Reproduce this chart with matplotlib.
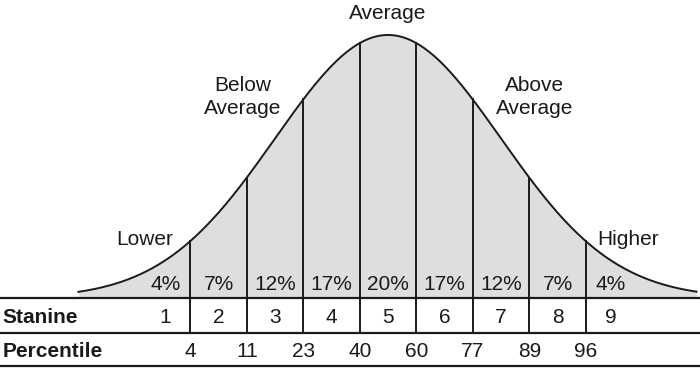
import numpy as np
import matplotlib

matplotlib.use("Agg")
import matplotlib.pyplot as plt  # noqa: E402

# stanine bands on the z scale
BOUNDS = [-1.75, -1.25, -0.75, -0.25, 0.25, 0.75, 1.25, 1.75]
STANINES = [1, 2, 3, 4, 5, 6, 7, 8, 9]
PCT_IN_BAND = ["4%", "7%", "12%", "17%", "20%", "17%", "12%", "7%", "4%"]
BAND_CENTERS = [-1.97, -1.5, -1.0, -0.5, 0.0, 0.5, 1.0, 1.5, 1.97]
PERCENTILES = [4, 11, 23, 40, 60, 77, 89, 96]
GROUPS = ["Lower", "Below\nAverage", "Average", "Above\nAverage", "Higher"]
GROUP_X = [-2.15, -1.29, 0.0, 1.3, 2.12]
GROUP_Y = [0.088, 0.305, 0.431, 0.305, 0.088]

INK = "#1a1a1a"
FILL = "#dedede"
FS = 15

plt.rcParams["font.family"] = ["Liberation Sans", "DejaVu Sans"]

fig = plt.figure(figsize=(7.0, 3.71), dpi=100)
ax = fig.add_axes([0, 0, 1, 1])
ax.set_xlim(-3.434, 2.761)
ax.set_ylim(-0.1107, 0.452)
ax.axis("off")

x = np.linspace(-2.74, 2.73, 600)
pdf = np.exp(-x ** 2 / 2) / np.sqrt(2 * np.pi)
ax.fill_between(x, 0, pdf, color=FILL, lw=0, zorder=1)
ax.plot(x, pdf, color=INK, lw=1.4, zorder=3)

# band dividers run from the curve down through the stanine row
row_mid = -0.0531
for b in BOUNDS:
    top = np.exp(-b ** 2 / 2) / np.sqrt(2 * np.pi)
    ax.plot([b, b], [row_mid, top], color=INK, lw=1.4, zorder=3)

# table rules
for y in (0, row_mid, -0.1031):
    ax.axhline(y, color=INK, lw=1.6, zorder=4)

for c, p in zip(BAND_CENTERS, PCT_IN_BAND):
    ax.text(c, 0.0212, p, ha="center", va="center", fontsize=FS, color=INK)
for c, s in zip(BAND_CENTERS, STANINES):
    ax.text(c, -0.0295, str(s), ha="center", va="center", fontsize=FS,
            color=INK)
for b, p in zip(BOUNDS, PERCENTILES):
    ax.text(b, -0.081, str(p), ha="center", va="center", fontsize=FS,
            color=INK)

ax.text(-3.41, -0.0295, "Stanine", ha="left", va="center", fontsize=FS,
        fontweight="bold", color=INK)
ax.text(-3.41, -0.081, "Percentile", ha="left", va="center", fontsize=FS,
        fontweight="bold", color=INK)

for g, gx, gy in zip(GROUPS, GROUP_X, GROUP_Y):
    ax.text(gx, gy, g, ha="center", va="center", fontsize=FS, color=INK,
            linespacing=1.3)

fig.savefig("out.png", dpi=100)
